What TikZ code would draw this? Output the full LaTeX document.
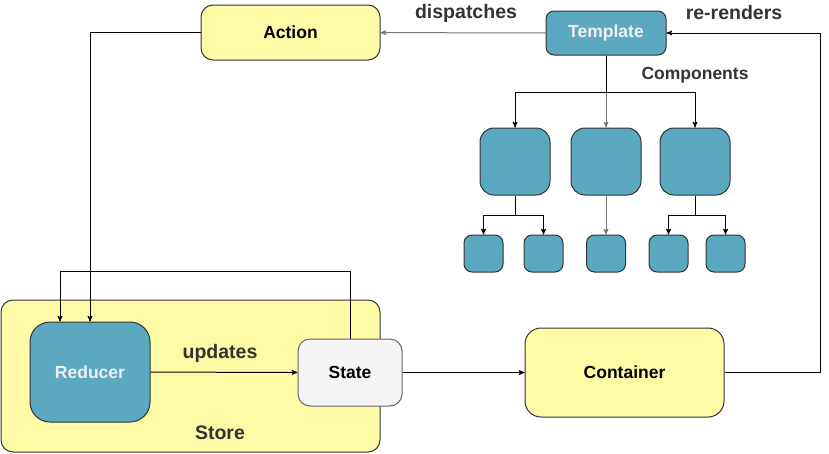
\documentclass[tikz,border=0pt]{standalone}
\usepackage{fontspec}
\setmainfont{Liberation Sans}
\usetikzlibrary{arrows,positioning}
\definecolor{noteyellow}{HTML}{FFFAA5}
\definecolor{teal}{HTML}{5BA8C1}
\definecolor{linegray}{HTML}{777777}
\definecolor{labelgray}{HTML}{333333}
\begin{document}
\begin{tikzpicture}[>=stealth', x=1pt, y=-1pt, semithick, line width=1pt, node distance=60pt]
	\tikzstyle{yellowbox}=[draw=black!80, fill=noteyellow, rounded corners=12pt, font=\bfseries\fontsize{17.5}{20}\selectfont, text=black]
	\tikzstyle{tealbox}=[draw=black!80, fill=teal, rounded corners=14pt, font=\bfseries\fontsize{17.5}{20}\selectfont, text=white!94!black]
	\tikzstyle{leaf}=[tealbox, minimum width=39pt, minimum height=37pt, rounded corners=8pt]
	\tikzstyle{comp}=[tealbox, minimum width=70pt, minimum height=67pt]
	\tikzstyle{lbl}=[font=\bfseries\fontsize{19.5}{22}\selectfont, text=labelgray]
	\useasboundingbox (0,0) rectangle (829,453);
	% store
	\node[yellowbox, minimum width=379pt, minimum height=152pt] (store) at (190.5,376) {};
	\node[lbl] (storelbl) at (220,433) {Store};
	\node[tealbox, minimum width=120pt, minimum height=100pt, rounded corners=20pt] (reducer) at (90,372) {Reducer};
	\node[yellowbox, fill=white!96!black, draw=black!60, minimum width=104pt, minimum height=67pt] (state) at (350,372.5) {State};
	\node[yellowbox, minimum width=199pt, minimum height=89pt, rounded corners=16pt] (container) at (624.5,372.5) {Container};
	% top row
	\node[yellowbox, minimum width=179pt, minimum height=55pt] (action) at (290.5,32.5) {Action};
	\node[tealbox, minimum width=120pt, minimum height=44pt, rounded corners=8pt] (template) at (606,33) {Template};
	% components
	\node[comp] (c2) at (606,161.5) {};
	\node[comp, left of=c2, node distance=91pt] (c1) {};
	\node[comp, right of=c2, node distance=89pt] (c3) {};
	\node[leaf, below of=c2, node distance=92pt] (l3) {};
	\node[leaf, left of=l3, node distance=62.5pt] (l2) {};
	\node[leaf, left of=l2] (l1) {};
	\node[leaf, right of=l3, node distance=62.5pt] (l4) {};
	\node[leaf, right of=l4, node distance=57pt] (l5) {};
	% labels
	\node[lbl] (dispatches) at (466,13) {dispatches};
	\node[lbl] (rerenders) at (734,13) {re-renders};
	\node[lbl] (updates) at (220,353) {updates};
	\node[lbl, font=\bfseries\fontsize{17.5}{20}\selectfont] (components) at (695,75) {Components};
	% connectors
	\draw[->, linegray] (template) -- (action);
	\draw[->] (action.west) -| (reducer.north);
	\draw[->] (state.north) -- ++(0,-67) -| ([xshift=-30pt]reducer.north);
	\draw[->] (reducer) -- (state);
	\draw[->] (state) -- (container);
	\draw[->] (container.east) -- ++(96,0) |- (template.east);
	\draw (template.south) -- ++(0,37) coordinate (split);
	\draw[->] (split) -| (c1.north);
	\draw[->] (split) -| (c3.north);
	\draw[->, linegray] (split) -- (c2.north);
	\draw (c1.south) -- ++(0,20) coordinate (split1);
	\draw[->] (split1) -| (l1.north);
	\draw[->] (split1) -| (l2.north);
	\draw[->, linegray] (c2.south) -- (l3.north);
	\draw (c3.south) -- ++(0,20) coordinate (split3);
	\draw[->] (split3) -| (l4.north);
	\draw[->] (split3) -| (l5.north);
\end{tikzpicture}
\end{document}
